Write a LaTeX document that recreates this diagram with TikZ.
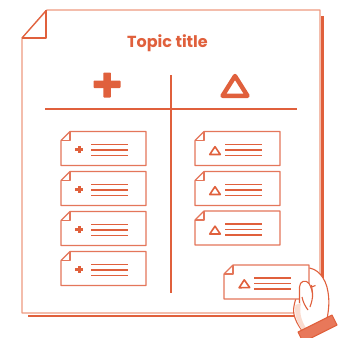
\documentclass[tikz,border=0pt]{standalone}
\usepackage{fontspec}
\setmainfont{Poppins}
\definecolor{accent}{HTML}{E0603C}
\definecolor{soft}{HTML}{EE9A80}
\definecolor{edge}{HTML}{E4765A}
\definecolor{skin}{HTML}{FADCD0}
\definecolor{cuffcol}{HTML}{E8785A}

\tikzset{
  pageline/.style={draw=soft, line width=1.3},
  foldline/.style={draw=accent, line width=1.1},
  shadowline/.style={draw=accent, line width=2.4},
  divider/.style={draw=accent, line width=1.1},
  cardedge/.style={draw=edge, line width=1.2},
  cardtext/.style={draw=accent, line width=1.1, line cap=butt},
  handline/.style={draw=accent, line width=1.1},
  cardbody/.pic={
    \draw[cardedge, fill=white] (0,9) -- (9,0) -- (85,0) -- (85,34) -- (0,34) -- cycle;
    \draw[cardedge] (0,9) -- (9,9) -- (9,0);
    \foreach \yy in {13,18.5,24} \draw[cardtext] (30,\yy) -- (67,\yy);
  },
  procard/.pic={
    \pic {cardbody};
    \fill[accent] (14,16.7) rectangle (22.4,19.5);
    \fill[accent] (16.8,14.3) rectangle (19.6,21.9);
  },
  concard/.pic={
    \pic {cardbody};
    \draw[accent, line width=1.6, line join=round] (20,15.2) -- (25.3,23) -- (14.7,23) -- cycle;
  },
}

\begin{document}
\begin{tikzpicture}[x=1pt, y=-1pt, line join=round]
\useasboundingbox (0,0) rectangle (344,337);

% page with its shadow
\draw[shadowline] (322.5,16) -- (322.5,316) -- (28,316);
\draw[pageline, fill=white] (47,10) -- (320,10) -- (320,313) -- (22,313) -- (22,38) -- cycle;
\draw[foldline] (22,38) -- (46,10.5);
\draw[foldline] (22,38) -- (46,38) -- (46,10.5);

% title
\node[text=accent, font=\fontsize{16}{19}\selectfont\bfseries] (title) at (167.5,43) {Topic title};

% column headings
\fill[accent, rounded corners=0.8] (93.5,80.5) rectangle (120.5,88);
\fill[accent, rounded corners=0.8] (103.3,72.5) rectangle (110.8,97.5);
\draw[accent, line width=4.4, line join=round] (235,76) -- (247.5,95.8) -- (222.5,95.8) -- cycle;

% table rules
\draw[divider] (45,109) -- (297,109);
\draw[divider] (171,75) -- (171,292.5);

% pros column
\pic (pro1) at (61,131.5) {procard};
\pic (pro2) at (61,171.5) {procard};
\pic (pro3) at (61,211.5) {procard};
\pic (pro4) at (61,251.5) {procard};

% cons column
\pic (con1) at (195,131.5) {concard};
\pic (con2) at (195,171.5) {concard};
\pic (con3) at (195,211) {concard};

% hand: fingers and palm behind the held card
\draw[handline, fill=white]
  (306,268) .. controls (317,267) and (326,278) .. (328,292)
  .. controls (330,304) and (328,312) .. (327,320)
  -- (303,332)
  .. controls (297,324) and (292,315) .. (294,306)
  .. controls (295,300) and (297,296) .. (298,290) -- cycle;
\fill[skin] (295.5,305) .. controls (294,314) and (297,323) .. (302,330)
  -- (306,328) .. controls (301,320) and (299,312) .. (301,303) -- cycle;

% held card
\pic[rotate=1] (held) at (224,265) {concard};

% thumb in front of the card
\draw[handline, fill=white]
  (299.5,303) -- (299.5,287)
  .. controls (299.5,281) and (306,279) .. (309,283.5)
  .. controls (311,287) and (313,292) .. (312.5,297)
  .. controls (312,301) and (311,304) .. (310,307);
\draw[handline] (302,297) .. controls (303,302) and (305,306) .. (308,310);
\draw[handline] (311.5,285) -- (312.5,293);
\draw[handline] (311.5,287) -- (315.5,285.5);

% cuff
\draw[handline, fill=cuffcol] (298,332) -- (332,315) -- (337,325) -- (303,342) -- cycle;
\end{tikzpicture}
\end{document}
